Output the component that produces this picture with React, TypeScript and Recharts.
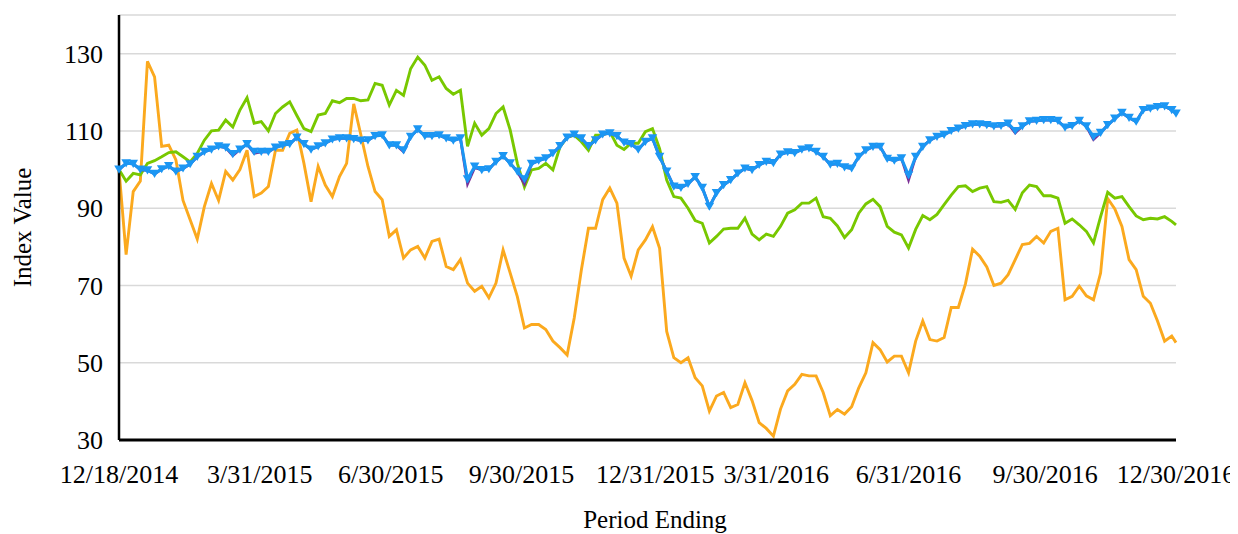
import React from 'react';
import { LineChart, Line, XAxis, YAxis, CartesianGrid, Label } from 'recharts';

const FONT = "'Liberation Serif', 'Times New Roman', serif";

// Days elapsed since 12/18/2014 for each sample
const days = [
  0, 5, 10, 15, 20, 25, 30, 35, 40, 45,
  50, 55, 60, 65, 70, 75, 80, 85, 90, 95,
  100, 105, 110, 115, 120, 125, 130, 135, 140, 145,
  150, 155, 160, 165, 170, 175, 180, 185, 190, 195,
  200, 205, 210, 215, 220, 225, 230, 235, 240, 245,
  250, 255, 260, 265, 270, 275, 280, 285, 290, 295,
  300, 305, 310, 315, 320, 325, 330, 335, 340, 345,
  350, 355, 360, 365, 370, 375, 380, 385, 390, 395,
  400, 405, 410, 415, 420, 425, 430, 435, 440, 445,
  450, 455, 460, 465, 470, 475, 480, 485, 490, 495,
  500, 505, 510, 515, 520, 525, 530, 535, 540, 545,
  550, 555, 560, 565, 570, 575, 580, 585, 590, 595,
  600, 605, 610, 615, 620, 625, 630, 635, 640, 645,
  650, 655, 660, 665, 670, 675, 680, 685, 690, 695,
  700, 705, 710, 715, 720, 725, 730, 735, 740, 743,
];

const orangeSeries = [
  100, 78, 94.3, 97, 128, 124, 106, 106.3, 102.5, 92,
  87, 82, 90.4, 96.4, 92, 99.5, 97.3, 100, 105, 93,
  93.9, 95.6, 105, 105, 109.4, 110.2, 101.6, 91.7, 100.8, 96,
  93, 98.2, 101.6, 117, 109, 100.8, 94.3, 92.2, 82.7, 84.4,
  77.1, 79.2, 80.1, 77.1, 81.4, 82, 74.9, 74.1, 76.7, 70.6,
  68.5, 69.8, 66.8, 70.6, 79.2, 73.2, 67.1, 59, 59.9, 59.9,
  58.6, 55.6, 53.9, 52, 61.6, 74, 84.8, 84.8, 92.2, 95.2,
  91.3, 77.1, 72.4, 79.2, 81.8, 85.2, 79.6, 58.1, 51.3, 50,
  51.3, 46.1, 44, 37.5, 41.4, 42.3, 38.4, 39.2, 44.8, 40.2,
  34.5, 33, 31, 38, 42.7, 44.4, 47, 46.6, 46.6, 42.3,
  36.3, 37.9, 36.7, 38.6, 43.5, 47.4, 55.2, 53.4, 50.2, 51.7,
  51.7, 47.4, 55.6, 60.8, 56, 55.6, 56.5, 64.3, 64.3, 70.4,
  79.4, 77.6, 74.8, 70, 70.6, 72.8, 76.7, 80.6, 80.9, 82.7,
  81, 84, 84.8, 66.3, 67.2, 69.8, 67.3, 66.3, 73.2, 92.5,
  89.8, 85.3, 76.7, 74.1, 67.2, 65.4, 60.8, 55.6, 56.9, 55.2,
];

const greenSeries = [
  100, 97, 99, 98.6, 101.6, 102.3, 103.3, 104.4, 104.6, 103.3,
  102, 104.2, 107.6, 110, 110.2, 112.8, 111, 115.4, 118.6, 112,
  112.4, 110, 114.5, 116.2, 117.5, 114, 110.6, 109.8, 114.1, 114.5,
  117.8, 117.3, 118.4, 118.4, 117.8, 118, 122.3, 121.8, 116.7, 120.5,
  119.2, 126.1, 129.1, 127, 123.1, 124, 121, 119.5, 120.5, 106,
  112, 108.9, 110.6, 114.5, 116.2, 110.2, 101.6, 95.5, 99.9, 100.3,
  101.6, 99.9, 105.9, 108.3, 108.9, 107.2, 105, 108.9, 108.9, 109.8,
  106.3, 105.2, 106.8, 106.8, 109.8, 110.6, 105.4, 97.3, 93, 92.6,
  90, 86.8, 86.1, 81, 82.7, 84.6, 84.8, 84.8, 87.4, 83.3,
  81.8, 83.3, 82.7, 85.3, 88.7, 89.6, 91.3, 91.3, 92.6, 87.8,
  87.4, 85.4, 82.4, 84.4, 88.7, 91.1, 92.3, 90.4, 85.3, 83.8,
  83.1, 79.7, 84.5, 88.1, 87, 88.4, 90.9, 93.4, 95.6, 95.8,
  94.3, 95.2, 95.6, 91.7, 91.5, 92, 89.7, 94, 96, 95.6,
  93.2, 93.2, 92.6, 86.1, 87.2, 85.7, 84, 81, 87.8, 94.1,
  92.6, 93, 90.4, 88, 87, 87.4, 87.2, 87.8, 86.6, 85.7,
];

const purpleSeries = [
  100, 101.6, 101.5, 100, 99.8, 98.9, 100.1, 100.9, 99.5, 100.3,
  101.4, 103.3, 104.6, 105.2, 106, 105.7, 103.6, 105.2, 106.6, 104.2,
  104.6, 104.6, 105.7, 106.3, 106.6, 108.3, 106.6, 105.2, 106, 106.8,
  107.8, 108.1, 108.1, 107.9, 107.5, 107.6, 108.7, 108.9, 106.3, 106.3,
  104.6, 108.5, 110.4, 108.7, 108.7, 108.9, 108.1, 107.5, 108.1, 96.3,
  100.5, 99.9, 100.1, 102, 103.5, 101.6, 99.5, 96.3, 101.5, 102.3,
  102.9, 104.2, 106.1, 108.3, 109.1, 108.1, 106.1, 107.6, 109.1, 109.4,
  108.7, 107, 106.6, 105.2, 107.2, 108.1, 103.3, 99.5, 95.6, 95.3,
  96.3, 98.1, 95.3, 90.4, 93.9, 96, 97.3, 99, 100.3, 99.9,
  101.2, 102, 101.7, 103.9, 104.5, 104.3, 105.2, 105.5, 104.6, 103.3,
  101.3, 101.5, 100.6, 100.3, 103.3, 105, 105.9, 105.9, 102.8, 102.3,
  102.9, 97.3, 103.3, 105.9, 107.6, 108.5, 109, 110, 110.6, 111.3,
  111.7, 111.7, 111.5, 111.2, 111.3, 111.9, 109.5, 111.2, 112.5, 112.6,
  112.8, 112.8, 112.6, 110.9, 111.3, 112.6, 111.2, 107.8, 109.5, 111.5,
  113.2, 114.7, 113.4, 112.4, 115.4, 115.8, 116.2, 116.4, 115.4, 114.5,
];

const blueSeries = [
  100, 101.6, 101.5, 100, 99.8, 98.9, 100.1, 100.9, 99.5, 100.3,
  101.4, 103.3, 104.6, 105.2, 106, 105.7, 104, 105.2, 106.6, 104.6,
  104.6, 104.6, 105.7, 106.3, 106.6, 108.3, 106.6, 105.2, 106, 106.8,
  107.8, 108.1, 108.1, 107.9, 107.5, 107.6, 108.7, 108.9, 106.3, 106.3,
  105, 108.5, 110.4, 108.7, 108.7, 108.9, 108.1, 107.5, 108.1, 97.5,
  100.8, 99.9, 100.1, 102, 103.5, 101.6, 99.5, 97.5, 101.5, 102.3,
  102.9, 104.2, 106.1, 108.3, 109.1, 108.1, 106.1, 107.6, 109.1, 109.4,
  108.7, 107, 106.6, 105.2, 107.2, 108.1, 103.3, 99.5, 95.6, 95.3,
  96.3, 98.1, 95.3, 90.4, 93.9, 96, 97.3, 99, 100.3, 99.9,
  101.2, 102, 101.7, 103.9, 104.5, 104.3, 105.2, 105.5, 104.6, 103.3,
  101.3, 101.5, 100.6, 100.3, 103.3, 105, 105.9, 105.9, 102.8, 102.3,
  102.9, 98.5, 103.3, 105.9, 107.6, 108.5, 109, 110, 110.6, 111.3,
  111.7, 111.7, 111.5, 111.2, 111.3, 111.9, 110, 111.2, 112.5, 112.6,
  112.8, 112.8, 112.6, 110.9, 111.3, 112.6, 111.2, 108.5, 109.5, 111.5,
  113.2, 114.7, 113.4, 112.4, 115.4, 115.8, 116.2, 116.4, 115.4, 114.5,
];

const xTickDays = [0, 99, 191, 283, 377, 462, 555, 651, 743];
const xTickLabels = [
  '12/18/2014', '3/31/2015', '6/30/2015', '9/30/2015', '12/31/2015',
  '3/31/2016', '6/31/2016', '9/30/2016', '12/30/2016',
];
const yTicks = [30, 50, 70, 90, 110, 130];

const data = days.map((t, i) => ({
  t,
  orange: orangeSeries[i],
  green: greenSeries[i],
  purple: purpleSeries[i],
  blue: blueSeries[i],
}));

const BLUE = '#1B96F3';

const TriangleDot = (props: any) => {
  const { cx, cy, index } = props;
  if (cx == null || cy == null) return <g key={`d${index}`} />;
  return (
    <path
      key={`d${index}`}
      d={`M${cx - 4.8},${cy - 4}L${cx + 4.8},${cy - 4}L${cx},${cy + 4.2}Z`}
      fill={BLUE}
      stroke="none"
    />
  );
};

export default function App() {
  return (
    <div style={{ width: 1230, height: 526 }}>
      <LineChart
        width={1230}
        height={526}
        data={data}
        margin={{ top: 7, right: 62, left: 0, bottom: 34 }}
      >
        <CartesianGrid vertical={false} stroke="#D9D9D9" strokeWidth={1.5} />
        <XAxis
          dataKey="t"
          type="number"
          domain={[0, 743]}
          ticks={xTickDays}
          interval={0}
          tickFormatter={(v: number) => xTickLabels[xTickDays.indexOf(v)] ?? ''}
          height={60}
          tickLine={false}
          tickSize={6}
          tickMargin={19}
          axisLine={{ stroke: '#000', strokeWidth: 3 }}
          tick={{ fill: '#000', fontSize: 26, fontFamily: FONT }}
        >
          <Label
            content={() => (
              <text x={647} y={520} textAnchor="middle" fill="#000" fontSize={25} fontFamily={FONT}>
                Period Ending
              </text>
            )}
          />
        </XAxis>
        <YAxis
          domain={[30, 140]}
          ticks={yTicks}
          interval={0}
          width={111}
          tickLine={false}
          tickSize={6}
          tickMargin={10}
          axisLine={{ stroke: '#000', strokeWidth: 2.5 }}
          tick={{ fill: '#000', fontSize: 26, fontFamily: FONT }}
          allowDataOverflow
        >
          <Label
            content={() => (
              <text
                x={23}
                y={219.5}
                transform="rotate(-90 23 219.5)"
                textAnchor="middle"
                fill="#000"
                fontSize={25}
                fontFamily={FONT}
              >
                Index Value
              </text>
            )}
          />
        </YAxis>
        <Line
          type="linear"
          dataKey="orange"
          stroke="#FBA91E"
          strokeWidth={2.9}
          dot={false}
          activeDot={false}
          isAnimationActive={false}
        />
        <Line
          type="linear"
          dataKey="green"
          stroke="#78C800"
          strokeWidth={2.9}
          dot={false}
          activeDot={false}
          isAnimationActive={false}
        />
        <Line
          type="linear"
          dataKey="purple"
          stroke="#7B2F96"
          strokeWidth={2.8}
          dot={false}
          activeDot={false}
          isAnimationActive={false}
        />
        <Line
          type="linear"
          dataKey="blue"
          stroke={BLUE}
          strokeWidth={3}
          dot={TriangleDot}
          activeDot={false}
          isAnimationActive={false}
        />
      </LineChart>
    </div>
  );
}
